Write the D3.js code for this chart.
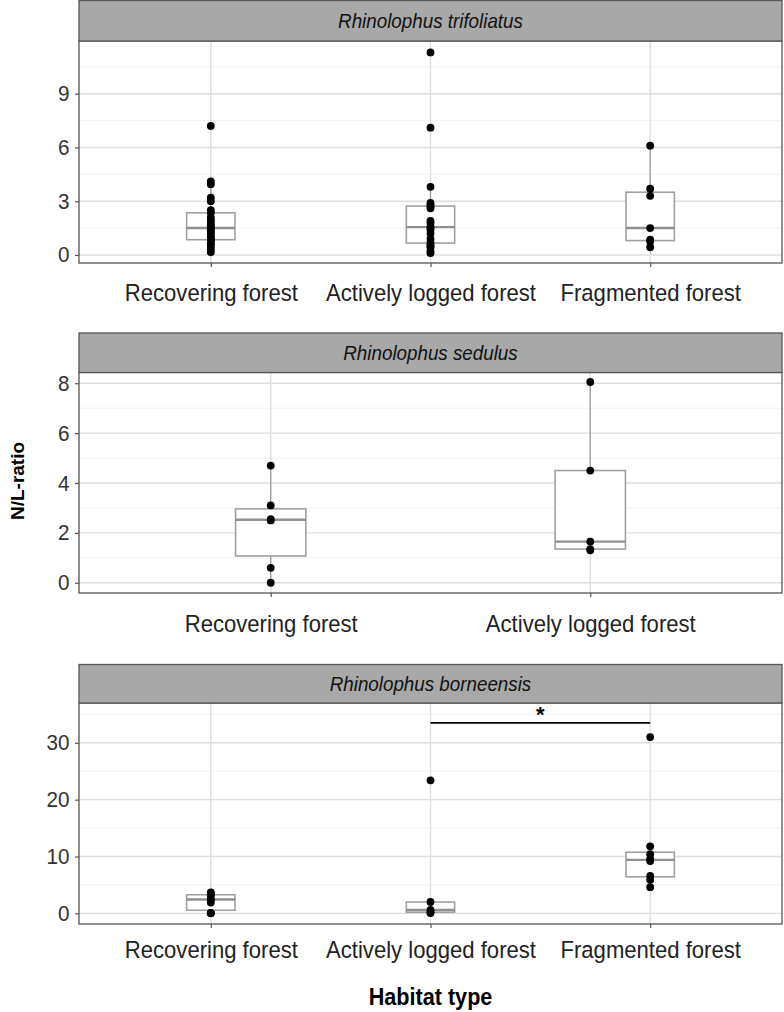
<!DOCTYPE html>
<html>
<head>
<meta charset="utf-8">
<script src="https://cdn.jsdelivr.net/npm/d3@7"></script>
<style>
  html, body { margin: 0; padding: 0; background: #fff; }
  svg { display: block; font-family: "Liberation Sans", Arial, sans-serif; }
</style>
</head>
<body>
<svg id="chart" width="784" height="1012"></svg>
<script>
// ---------------- data ----------------
const speciesNames = ["Rhinolophus trifoliatus", "Rhinolophus sedulus", "Rhinolophus borneensis"];
const categories3 = ["Recovering forest", "Actively logged forest", "Fragmented forest"];
const categories2 = ["Recovering forest", "Actively logged forest"];

// Rhinolophus trifoliatus
const triRecovering = [7.2, 4.1, 3.95, 3.2, 3.0, 2.5, 2.35, 2.1, 1.95, 1.85, 1.7, 1.6, 1.5, 1.4, 1.3, 1.2, 1.05, 0.95, 0.85, 0.8, 0.7, 0.6, 0.45, 0.3, 0.15];
const triLogged = [11.3, 7.1, 3.8, 2.9, 2.8, 2.7, 2.6, 1.9, 1.8, 1.6, 1.5, 1.4, 1.2, 0.9, 0.7, 0.55, 0.5, 0.4, 0.2, 0.1];
const triFragmented = [6.1, 3.7, 3.3, 1.5, 0.85, 0.75, 0.43];
// Rhinolophus sedulus
const sedRecovering = [4.7, 3.1, 2.55, 2.5, 0.6, 0.0];
const sedLogged = [8.05, 4.5, 1.65, 1.35, 1.3];
// Rhinolophus borneensis
const borRecovering = [3.7, 3.4, 3.3, 3.2, 2.55, 2.35, 1.9, 0.1, 0.05, 0.0];
const borLogged = [23.4, 2.0, 0.6, 0.2, 0.05];
const borFragmented = [31.0, 11.8, 10.4, 9.6, 9.2, 6.6, 5.9, 4.6];

// tick labels
const triTicks = [0, 3, 6, 9];
const sedTicks = [0, 2, 4, 6, 8];
const borTicks = [0, 10, 20, 30];

// significance annotation (borneensis panel)
const sigPair = ["Actively logged forest", "Fragmented forest"];
const sigLevel = 33.5;
const sigLabel = "*";

const xTitle = "Habitat type";
const yTitle = "N/L-ratio";

// ---------------- layout ----------------
const svg = d3.select("#chart");
const left = 79, right = 782;
const textScale = "scale(0.94,1)";
const FONT = "\"Liberation Sans\", Arial, sans-serif";

const panels = [
  { name: speciesNames[0], cats: categories3, groups: [triRecovering, triLogged, triFragmented],
    ticks: triTicks, domain: [-0.45, 11.94], stripTop: 0.5, plotTop: 41, plotBottom: 263, labelOffset: 30 },
  { name: speciesNames[1], cats: categories2, groups: [sedRecovering, sedLogged],
    ticks: sedTicks, domain: [-0.41, 8.43], stripTop: 333, plotTop: 372.5, plotBottom: 593, labelOffset: 31 },
  { name: speciesNames[2], cats: categories3, groups: [borRecovering, borLogged, borFragmented],
    ticks: borTicks, domain: [-1.87, 37.0], stripTop: 664.5, plotTop: 703, plotBottom: 924, labelOffset: 26,
    sig: { pair: sigPair, level: sigLevel, label: sigLabel } }
];

function boxStats(vals) {
  const s = vals.slice().sort(d3.ascending);
  const q1 = d3.quantile(s, 0.25), med = d3.quantile(s, 0.5), q3 = d3.quantile(s, 0.75);
  const iqr = q3 - q1;
  const lo = d3.min(s.filter(v => v >= q1 - 1.5 * iqr));
  const hi = d3.max(s.filter(v => v <= q3 + 1.5 * iqr));
  return { q1, med, q3, lo, hi };
}

panels.forEach(p => {
  const g = svg.append("g");
  const x = d3.scalePoint().domain(p.cats).range([left, right]).padding(0.6);
  const y = d3.scaleLinear().domain(p.domain).range([p.plotBottom, p.plotTop]);
  const step = x.step();
  const boxW = step * 0.22;

  // minor grid
  const tstep = p.ticks[1] - p.ticks[0];
  const minor = d3.range(p.ticks[0] - tstep / 2, p.domain[1], tstep).filter(v => v > p.domain[0]);
  g.append("g").selectAll("line").data(minor).join("line")
    .attr("x1", left).attr("x2", right)
    .attr("y1", d => y(d)).attr("y2", d => y(d))
    .attr("stroke", "#efefef").attr("stroke-width", 0.8);
  // major grid
  g.append("g").selectAll("line").data(p.ticks).join("line")
    .attr("x1", left).attr("x2", right)
    .attr("y1", d => y(d)).attr("y2", d => y(d))
    .attr("stroke", "#dedede").attr("stroke-width", 1.4);
  g.append("g").selectAll("line").data(p.cats).join("line")
    .attr("x1", d => x(d)).attr("x2", d => x(d))
    .attr("y1", p.plotTop).attr("y2", p.plotBottom)
    .attr("stroke", "#dedede").attr("stroke-width", 1.4);

  // boxplots
  p.cats.forEach((c, i) => {
    const st = boxStats(p.groups[i]);
    const cx = x(c);
    const bg = g.append("g");
    bg.append("line").attr("x1", cx).attr("x2", cx).attr("y1", y(st.q3)).attr("y2", y(st.hi))
      .attr("stroke", "#999").attr("stroke-width", 1.2);
    bg.append("line").attr("x1", cx).attr("x2", cx).attr("y1", y(st.q1)).attr("y2", y(st.lo))
      .attr("stroke", "#999").attr("stroke-width", 1.2);
    bg.append("rect").attr("x", cx - boxW / 2).attr("width", boxW)
      .attr("y", y(st.q3)).attr("height", y(st.q1) - y(st.q3))
      .attr("fill", "#fff").attr("stroke", "#a0a0a0").attr("stroke-width", 1.6);
    bg.append("line").attr("x1", cx - boxW / 2).attr("x2", cx + boxW / 2)
      .attr("y1", y(st.med)).attr("y2", y(st.med))
      .attr("stroke", "#909090").attr("stroke-width", 2.4);
  });

  // points
  p.cats.forEach((c, i) => {
    g.append("g").selectAll("circle").data(p.groups[i]).join("circle")
      .attr("cx", x(c)).attr("cy", d => y(d)).attr("r", 3.9).attr("fill", "#000");
  });

  // significance
  if (p.sig) {
    const x1 = x(p.sig.pair[0]), x2 = x(p.sig.pair[1]);
    g.append("line").attr("x1", x1).attr("x2", x2)
      .attr("y1", y(p.sig.level)).attr("y2", y(p.sig.level))
      .attr("stroke", "#000").attr("stroke-width", 1.6);
    g.append("text").attr("x", (x1 + x2) / 2).attr("y", y(p.sig.level) - 1)
      .attr("text-anchor", "middle").attr("font-weight", "bold").attr("font-size", 22)
      .text(p.sig.label);
  }

  // panel border
  g.append("rect").attr("x", left).attr("y", p.plotTop)
    .attr("width", right - left).attr("height", p.plotBottom - p.plotTop)
    .attr("fill", "none").attr("stroke", "#555").attr("stroke-width", 1.3);

  // strip
  g.append("rect").attr("x", left).attr("y", p.stripTop)
    .attr("width", right - left).attr("height", p.plotTop - p.stripTop)
    .attr("fill", "#a8a8a8").attr("stroke", "#555").attr("stroke-width", 1.3);
  g.append("text")
    .attr("transform", `translate(${(left + right) / 2},${(p.stripTop + p.plotTop) / 2}) ${textScale}`)
    .attr("text-anchor", "middle").attr("dominant-baseline", "central")
    .attr("font-style", "italic").attr("font-size", 20).attr("fill", "#111")
    .text(p.name);

  // y axis
  const ya = g.append("g").attr("transform", `translate(${left},0)`)
    .call(d3.axisLeft(y).tickValues(p.ticks).tickSize(4).tickPadding(6).tickFormat(d3.format("d")));
  ya.select(".domain").remove();
  ya.selectAll(".tick line").attr("stroke", "#555").attr("stroke-width", 1.2);
  ya.selectAll(".tick text").attr("font-size", 22).attr("font-family", FONT).attr("fill", "#333")
    .attr("transform", textScale);

  // x axis
  const xa = g.append("g").attr("transform", `translate(0,${p.plotBottom})`)
    .call(d3.axisBottom(x).tickSize(4));
  xa.select(".domain").remove();
  xa.selectAll(".tick line").attr("stroke", "#555").attr("stroke-width", 1.2);
  xa.selectAll(".tick text").attr("font-size", 23.5).attr("font-family", FONT).attr("fill", "#222")
    .attr("y", p.labelOffset).attr("dy", "0.35em")
    .attr("transform", textScale);
});

// axis titles
svg.append("text")
  .attr("transform", `translate(${(left + right) / 2},1005) ${textScale}`)
  .attr("text-anchor", "middle").attr("font-weight", "bold").attr("font-size", 23)
  .text(xTitle);
svg.append("text")
  .attr("transform", "translate(24,481) rotate(-90)")
  .attr("text-anchor", "middle").attr("font-weight", "bold").attr("font-size", 19)
  .text(yTitle);
</script>
</body>
</html>
